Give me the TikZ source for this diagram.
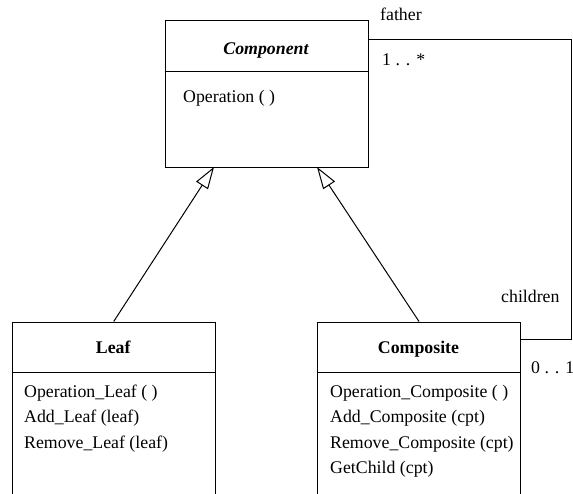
\documentclass[tikz,border=0pt]{standalone}
\usepackage{fontspec}
\setmainfont{Liberation Serif}
\newfontfamily\tms{Liberation Serif}
\usetikzlibrary{arrows.meta}
\begin{document}
\begin{tikzpicture}[x=1pt,y=-1pt,
  cls/.style={draw, line width=1pt, rectangle, anchor=north west, inner sep=0pt, minimum width=203pt},
  txt/.style={anchor=base west, inner sep=0pt, font=\tms\fontsize{17.8}{21}\selectfont},
  ttl/.style={anchor=base, inner sep=0pt, font=\tms\fontsize{17.8}{21}\selectfont\bfseries},
  gen/.style={line width=1pt, -{Triangle[open, length=22pt, width=14pt, fill=white]}},
  wire/.style={line width=1pt}]
\useasboundingbox (0,0) rectangle (573,493);
\clip (0,0) rectangle (573,493);
% classes
\node[cls, minimum height=147pt] (comp) at (164.5,20) {};
\node[cls, minimum height=220pt] (leaf) at (11.7,321.5) {};
\node[cls, minimum height=220pt] (compo) at (317,321.5) {};
% separators
\draw[wire] ([yshift=-51pt]comp.north west) -- ([yshift=-51pt]comp.north east);
\draw[wire] ([yshift=-50.5pt]leaf.north west) -- ([yshift=-50.5pt]leaf.north east);
\draw[wire] ([yshift=-50.5pt]compo.north west) -- ([yshift=-50.5pt]compo.north east);
% titles
\node[ttl, font=\tms\fontsize{17.8}{21}\selectfont\bfseries\itshape] (compt) at (266,54) {Component};
\node[ttl] (leaft) at (113.2,353) {Leaf};
\node[ttl] (compot) at (418.5,353) {Composite};
% operations
\node[txt] (op1) at (183,102) {Operation ( )};
\node[txt] (l1) at (24,397) {Operation\_Leaf ( )};
\node[txt] (l2) at (24,422.5) {Add\_Leaf (leaf)};
\node[txt] (l3) at (24,448) {Remove\_Leaf (leaf)};
\node[txt] (c1) at (330,397) {Operation\_Composite ( )};
\node[txt] (c2) at (330,422.5) {Add\_Composite (cpt)};
\node[txt] (c3) at (330,448) {Remove\_Composite (cpt)};
\node[txt] (c4) at (330,473.5) {GetChild (cpt)};
% generalizations
\coordinate (gl) at (214,167);
\coordinate (gr) at (317,167);
\draw[gen] (leaf.north) -- (gl);
\draw[gen] (compo.north) -- (gr);
% aggregation wire
\coordinate (wc) at (571,39);
\draw[wire] ([yshift=-19pt]comp.north east) -- (wc) |- ([yshift=-17.5pt]compo.north east);
% role labels
\node[txt] (father) at (380,20) {father};
\node[txt] (m1) at (382,65) {1 . . *};
\node[txt] (children) at (501,302) {children};
\node[txt] (m2) at (531,373) {0 . . 1};
\end{tikzpicture}
\end{document}
